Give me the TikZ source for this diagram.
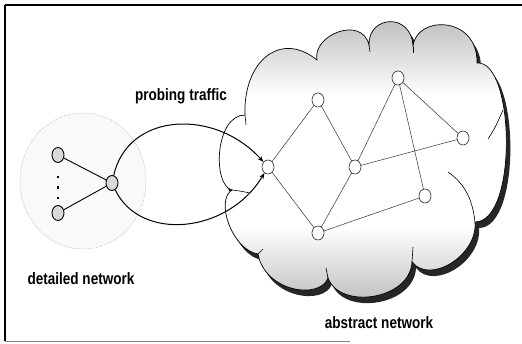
\documentclass[tikz,border=0pt]{standalone}
\usepackage{fontspec}
\setmainfont{Liberation Sans}
\newfontfamily\lblfont[FakeStretch=0.82]{Liberation Sans}
\usetikzlibrary{arrows.meta,shapes.geometric}
\pgfdeclareverticalshading{cloudshade}{100bp}{color(0bp)=(gray!55); color(25bp)=(gray!55); color(39bp)=(white); color(61bp)=(white); color(75bp)=(gray!55); color(100bp)=(gray!55)}
\def\cloudpath{(245,115) .. controls (243,62) and (280,30) .. (317,60)
 .. controls (312,35) and (362,15) .. (369,45)
 .. controls (368,15) and (412,12) .. (413,47)
 .. controls (415,15) and (478,15) .. (477,63)
 .. controls (515,60) and (518,222) .. (475,222)
 .. controls (478,255) and (430,285) .. (412,262)
 .. controls (410,300) and (340,310) .. (328,278)
 .. controls (320,300) and (265,292) .. (258,254)
 .. controls (232,250) and (215,200) .. (232,190)
 .. controls (212,185) and (215,115) .. (245,115) -- cycle}
\tikzset{
  anode/.style={ellipse,draw=black!85,line width=0.6pt,fill=white,minimum width=12pt,minimum height=14pt,inner sep=0pt},
  dnode/.style={ellipse,draw=black,line width=0.9pt,fill=gray!30,minimum width=12pt,minimum height=15pt,inner sep=0pt},
  aedge/.style={draw=black!80,line width=0.5pt},
  dedge/.style={draw=black,line width=0.9pt},
  probe/.style={draw=black,line width=1pt,-{Stealth[length=6pt,width=4.5pt]}},
  lbl/.style={font=\lblfont\bfseries\fontsize{16.5}{18}\selectfont,anchor=base,inner sep=0pt},
  inner/.style={draw=black,line width=0.6pt}
}
\begin{document}
\begin{tikzpicture}[x=1pt,y=-1pt]
\useasboundingbox (0,0) rectangle (522,344);
\fill[white] (0,0) rectangle (522,344);
% frame
\draw[line width=1.6pt] (5,5) -- (522,5);
\draw[line width=1.2pt] (5,5) -- (5,341);
\draw[line width=0.8pt,gray] (5,341) -- (350,341);
% detailed network area
\node[ellipse,draw=gray,densely dotted,fill=gray!5,minimum width=126pt,minimum height=136pt,inner sep=0pt] (dnet) at (83,181) {};
% cloud
\fill[black!85,shift={(4,6)}] \cloudpath;
\draw[black,line width=0.7pt,shading=cloudshade] \cloudpath;
\draw[inner] (245,115) -- (246,125);
\draw[inner] (232,190) .. controls (240,191) .. (250,193);
\draw[inner] (475,222) .. controls (472,195) and (462,182) .. (448,172);
\draw[inner] (412,262) -- (413,247);
\draw[inner] (328,278) -- (326,268);
\draw[inner] (258,254) -- (263,249);
\draw[inner] (369,45) -- (370,52);
\draw[inner] (413,47) -- (413,53);
\draw[inner] (488,139) .. controls (495,128) .. (503,110);
% detailed nodes
\node[dnode] (d1) at (58,155) {};
\node[dnode] (d2) at (58,213) {};
\node[dnode] (d3) at (112,183) {};
\draw[dedge] (d1) -- (d3);
\draw[dedge] (d2) -- (d3);
\fill (56.6,175.6) rectangle ++(2.8,2.8);
\fill (56.6,186.1) rectangle ++(2.8,2.8);
\fill (56.6,196.6) rectangle ++(2.8,2.8);
% abstract nodes
\node[anode] (n1) at (268,167) {};
\node[anode] (n2) at (318,100) {};
\node[anode] (n3) at (398,78) {};
\node[anode] (n4) at (463,138) {};
\node[anode] (n5) at (355,167) {};
\node[anode] (n6) at (425,196) {};
\node[anode] (n7) at (318,233) {};
\draw[aedge] (n1) -- (n2);
\draw[aedge] (n2) -- (n5);
\draw[aedge] (n5) -- (n3);
\draw[aedge] (n3) -- (n4);
\draw[aedge] (n3) -- (n6);
\draw[aedge] (n5) -- (n4);
\draw[aedge] (n1) -- (n7);
\draw[aedge] (n7) -- (n5);
\draw[aedge] (n7) -- (n6);
% probing traffic
\draw[probe] (d3) .. controls (128,112) and (215,108) .. (n1);
\draw[probe] (d3) .. controls (140,242) and (228,234) .. (n1);
% labels
\node[lbl] (tprobe) at (181,101) {probing traffic};
\node[lbl] (tdet) at (81,284.5) {detailed network};
\node[lbl] (tabs) at (379,329) {abstract network};
\end{tikzpicture}
\end{document}
